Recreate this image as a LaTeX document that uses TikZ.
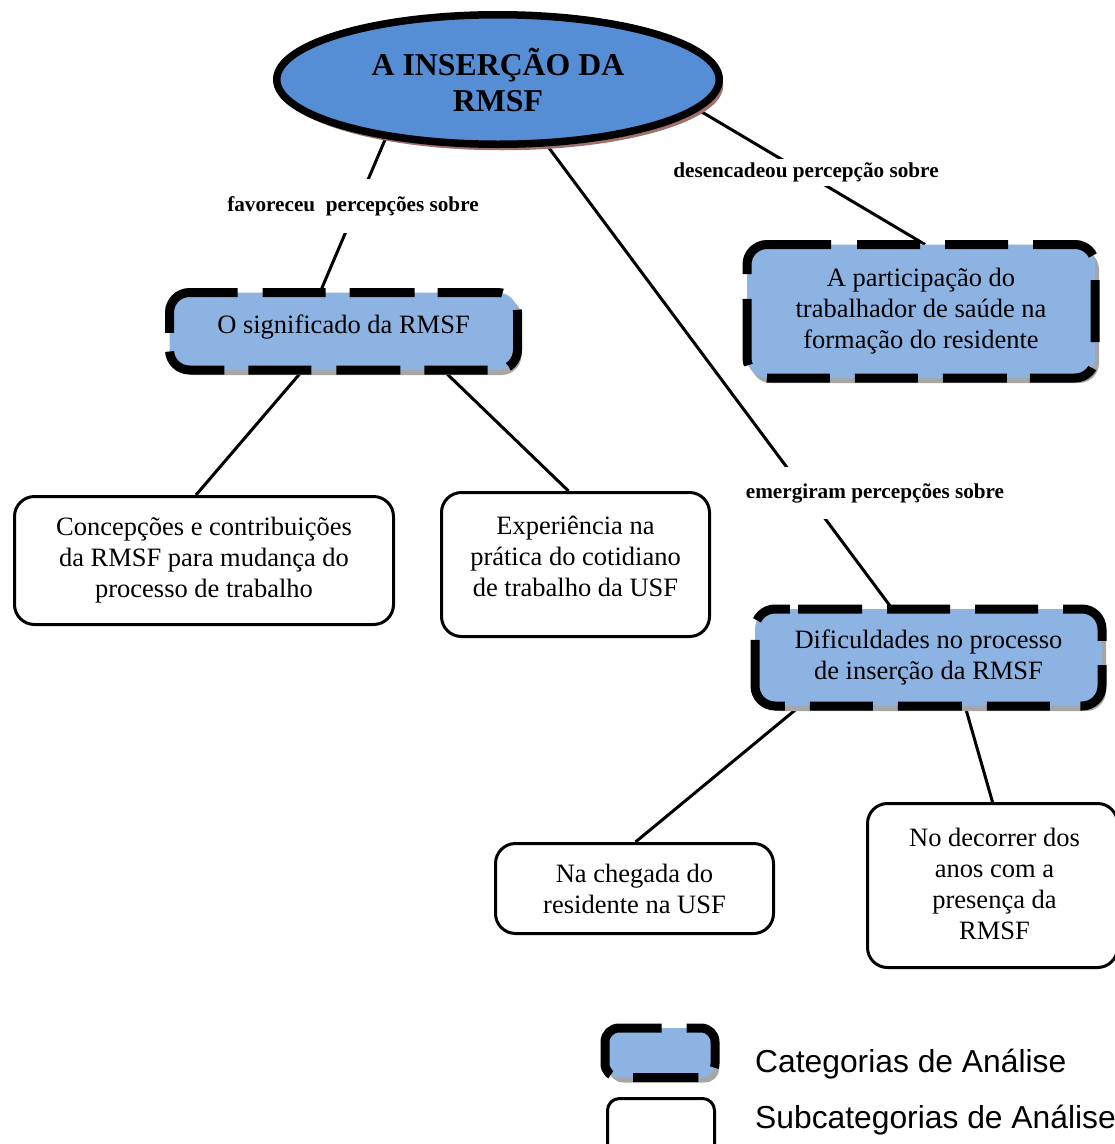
\documentclass[tikz,border=0pt]{standalone}
\usepackage{fontspec}
\setmainfont{Liberation Serif}
\newfontfamily\legendfont{Liberation Sans}
\usetikzlibrary{shapes.geometric,shadows,calc,backgrounds}
\definecolor{ellblue}{HTML}{558ED5}
\definecolor{catblue}{HTML}{8DB3E2}
\definecolor{ellshadow}{HTML}{A0706C}
\definecolor{boxshadow}{HTML}{A6A6A6}
\begin{document}
\begin{tikzpicture}[x=1pt,y=-1pt,
 mainellipse/.style={ellipse, draw=black, line width=7.5pt, fill=ellblue, minimum width=442.5pt, minimum height=129.5pt, inner sep=0pt, align=center, font=\bfseries\fontsize{31.8}{36}\selectfont, drop shadow={shadow xshift=4pt, shadow yshift=-6pt, fill=ellshadow, opacity=1}},
 catbox/.style={rectangle, rounded corners=20pt, fill=catblue, inner sep=0pt, outer sep=0pt, align=center, font=\fontsize{26.5}{31}\selectfont, drop shadow={shadow xshift=4pt, shadow yshift=-5pt, fill=boxshadow, opacity=1}},
 catborder/.style={draw=black, line width=9pt, rounded corners=20pt},
 cattext/.style={inner sep=0pt, align=center, font=\fontsize{26.5}{31}\selectfont},
 subbox/.style={rectangle, rounded corners=20pt, draw=black, line width=3pt, fill=white, inner sep=0pt, align=center, font=\fontsize{26.5}{31}\selectfont},
 linklabel/.style={fill=white, inner xsep=2pt, inner ysep=0pt, font=\bfseries\fontsize{21.2}{25}\selectfont},
 connector/.style={draw=black, line width=3pt},
 legendtext/.style={anchor=west, inner sep=0pt, font=\legendfont\fontsize{31.8}{36}\selectfont}
]
\useasboundingbox (0,0) rectangle (1115,1144);

\node[mainellipse] (ell) at (498,79.5) {A INSERÇÃO DA\\RMSF};

% categories
\node[catbox, minimum width=348pt, minimum height=77.5pt,
  label={[cattext, yshift=4pt]center:O significado da RMSF}] (cat1) at (343.5,331.25) {};
\draw[catborder, dash pattern=on 80.65pt off 25pt on 63pt off 24pt on 65pt off 23pt on 65pt off 23.6pt on 59.8pt off 21.7pt on 63.2pt off 24pt on 64pt off 25pt on 63pt off 24pt on 64.8pt off 21.1pt on 30pt off 0pt]
  (cat1.west) |- (cat1.north east) |- (cat1.south west) -- cycle;

\node[catbox, minimum width=348pt, minimum height=133.5pt] (cat2) at (921,311.25) {A participação do\\trabalhador de saúde na\\formação do residente};
\draw[catborder, dash pattern=on 0pt off 17.25pt on 104.9pt off 26pt on 63pt off 25pt on 63pt off 25pt on 64pt off 24.9pt on 62pt off 26.5pt on 65.9pt off 23pt on 64pt off 25pt on 63pt off 25pt on 63pt off 24pt on 66.4pt off 40pt]
  (cat2.west) |- (cat2.north east) |- (cat2.south west) -- cycle;

\node[catbox, minimum width=347pt, minimum height=97pt] (cat3) at (928.5,657.5) {Dificuldades no processo\\de inserção da RMSF};
\draw[catborder, dash pattern=on 0pt off 17.5pt on 37.3pt off 8.1pt on 64pt off 25pt on 63pt off 25pt on 63pt off 25pt on 62.2pt off 24.2pt on 53.9pt off 30.5pt on 63pt off 25pt on 64pt off 25pt on 63pt off 25pt on 87.4pt off 40pt]
  (cat3.west) |- (cat3.north east) |- (cat3.south west) -- cycle;

% subcategories
\node[subbox, minimum width=379pt, minimum height=128pt] (sub1) at (204,560.5) {Concepções e contribuições\\da RMSF para mudança do\\processo de trabalho};
\node[subbox, minimum width=268pt, minimum height=144pt,
  label={[cattext, yshift=8pt]center:Experiência na\\prática do cotidiano\\de trabalho da USF}] (sub2) at (575.5,564.5) {};
\node[subbox, minimum width=278pt, minimum height=90pt] (sub3) at (634.5,888.5) {Na chegada do\\residente na USF};
\node[subbox, minimum width=250pt, minimum height=164pt,
  label={[cattext, yshift=2pt, xshift=2pt]center:No decorrer dos\\anos com a\\presença da\\RMSF}] (sub4) at (992.5,885.5) {};

% link labels
\node[linklabel, minimum height=54pt] (lab1) at (353,206) {favoreceu\ \ percepções sobre};
\node[linklabel, minimum height=27pt] (lab2) at (806,172.5) {desencadeou percepção sobre};
\node[linklabel, minimum height=52pt] (lab3) at (875,493) {emergiram percepções sobre};

\begin{scope}[on background layer]
\draw[connector] ($(ell.center)+(-105,41.5)$) -- ($(cat1.north)+(-23.5,0)$);
\draw[connector] ($(ell.center)+(182,19.5)$) -- ($(cat2.north)+(4,0)$);
\draw[connector] (ell.center) -- (cat3.center);
\draw[connector] ($(cat1.south)+(-40.5,0)$) -- ($(sub1.north)+(-8,0)$);
\draw[connector] ($(cat1.south)+(99.5,0)$) -- ($(sub2.north)+(-7,0)$);
\draw[connector] ($(cat3.south)+(-128.5,0)$) -- ($(sub3.north)+(1,0)$);
\draw[connector] ($(cat3.south)+(36.5,0)$) -- (sub4.north);
\end{scope}

% legend
\node[catbox, rounded corners=14pt, minimum width=110pt, minimum height=49.5pt] (legcat) at (660,1052.75) {};
\draw[catborder, rounded corners=14pt, dash pattern=on 67.75pt off 25pt on 62pt off 20.25pt on 65.25pt off 23pt on 40pt off 0pt]
  (legcat.west) |- (legcat.north east) |- (legcat.south west) -- cycle;
\node[subbox, rounded corners=12pt, minimum width=107pt, minimum height=62pt] (legsub) at (661,1129.5) {};
\node[legendtext] (legt1) at (755,1064) {Categorias de Análise};
\node[legendtext] (legt2) at (755,1120) {Subcategorias de Análise};
\end{tikzpicture}
\end{document}
